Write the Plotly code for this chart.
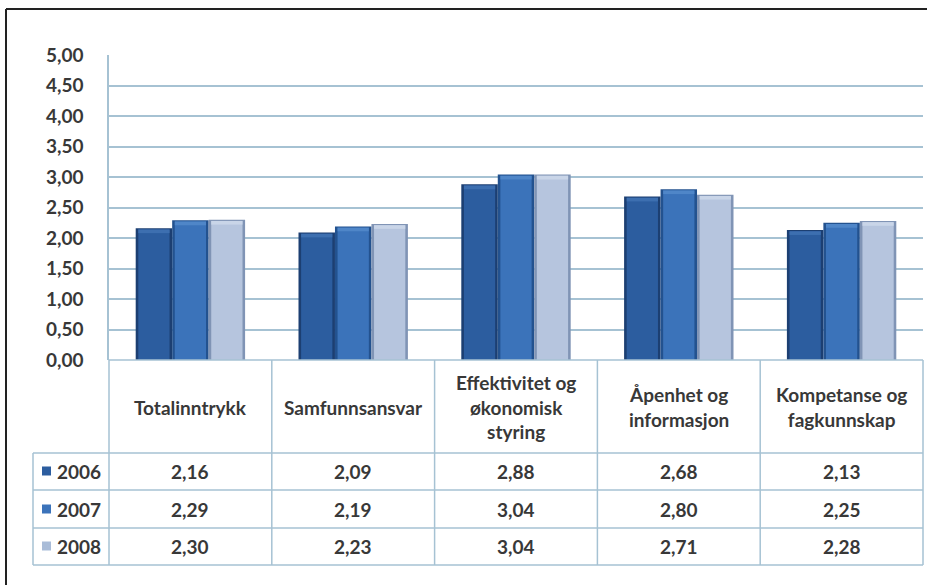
import plotly.graph_objects as go

# Survey scores per dimension and year
categories = [
    "Totalinntrykk",
    "Samfunnsansvar",
    "Effektivitet og<br>økonomisk<br>styring",
    "Åpenhet og<br>informasjon",
    "Kompetanse og<br>fagkunnskap",
]
years = ["2006", "2007", "2008"]
v2006 = [2.16, 2.09, 2.88, 2.68, 2.13]
v2007 = [2.29, 2.19, 3.04, 2.80, 2.25]
v2008 = [2.30, 2.23, 3.04, 2.71, 2.28]
y_ticks = [0, 0.5, 1, 1.5, 2, 2.5, 3, 3.5, 4, 4.5, 5]

series = [v2006, v2007, v2008]
edge_colors = ["#1c3f72", "#23528f", "#8094b5"]
body_colors = ["#2c5d9f", "#3b73ba", "#b6c5de"]
cap_colors = ["#3d6fb0", "#4f86c8", "#c9d5e8"]
legend_colors = ["#2c5d9f", "#3b73ba", "#a9bcd8"]

W, H = 927, 585
ML, MR, MT, MB = 109, 4, 55, 225
PW, PH = W - ML - MR, H - MT - MB


def px(x):
    return (x - ML) / PW


def py(y):
    return (H - MB - y) / PH


xs = list(range(len(categories)))
bar_w = 0.224
grp_left = -0.336

fig = go.Figure()
for i, (vals, yr) in enumerate(zip(series, years)):
    off = grp_left + i * bar_w
    # outer (shaded edge) bar
    fig.add_trace(go.Bar(
        x=xs, y=vals, width=bar_w, offset=off, name=yr,
        marker=dict(color=edge_colors[i], line=dict(width=0)),
        showlegend=False, hoverinfo="skip",
    ))
    # body of the bar
    inset = 0.016
    fig.add_trace(go.Bar(
        x=xs, y=[v - 0.02 for v in vals], width=bar_w - 2 * inset, offset=off + inset,
        marker=dict(color=body_colors[i], line=dict(width=0)),
        showlegend=False, hoverinfo="skip",
    ))
    # soft top cap highlight
    fig.add_trace(go.Bar(
        x=xs, y=[0.06] * len(vals), base=[v - 0.08 for v in vals],
        width=bar_w - 2 * inset, offset=off + inset,
        marker=dict(color=cap_colors[i], line=dict(width=0)),
        showlegend=False, hoverinfo="skip",
    ))

grid_col = "#a6c2d3"
font_col = "#383838"
FONT = "Lato"
FSIZE = 19

shapes = []
# outer frame of the figure
shapes.append(dict(type="line", xref="paper", yref="paper",
                   x0=px(6), x1=px(927), y0=py(9), y1=py(9),
                   line=dict(color="#222222", width=2)))
shapes.append(dict(type="line", xref="paper", yref="paper",
                   x0=px(6), x1=px(6), y0=py(9), y1=py(585),
                   line=dict(color="#222222", width=2)))

# data table grid
col_edges = [ML + k * PW / 5 for k in range(6)]
for k, xe in enumerate(col_edges):
    shapes.append(dict(type="line", xref="paper", yref="paper",
                       x0=px(xe), x1=px(xe), y0=py(360), y1=py(565),
                       line=dict(color=grid_col, width=1.5)))
shapes.append(dict(type="line", xref="paper", yref="paper",
                   x0=px(33), x1=px(33), y0=py(453), y1=py(565),
                   line=dict(color=grid_col, width=1.5)))
shapes.append(dict(type="line", xref="paper", yref="paper",
                   x0=px(ML), x1=px(ML + PW), y0=py(360), y1=py(360),
                   line=dict(color=grid_col, width=1.5)))
for yl in [453, 490, 528, 565]:
    shapes.append(dict(type="line", xref="paper", yref="paper",
                       x0=px(33), x1=px(ML + PW), y0=py(yl), y1=py(yl),
                       line=dict(color=grid_col, width=1.5)))

annotations = []
# category header row
for k, c in enumerate(categories):
    annotations.append(dict(
        x=px((col_edges[k] + col_edges[k + 1]) / 2), y=py(407),
        xref="paper", yref="paper", text=c, showarrow=False,
        xanchor="center", yanchor="middle",
        font=dict(family=FONT, size=FSIZE, color=font_col, weight="bold"),
    ))

row_centers = [471, 509, 546]
for r, (vals, yr) in enumerate(zip(series, years)):
    yc = row_centers[r]
    # legend key
    shapes.append(dict(type="rect", xref="paper", yref="paper",
                       x0=px(42), x1=px(51), y0=py(yc - 4.5), y1=py(yc + 4.5),
                       fillcolor=legend_colors[r], line=dict(width=0)))
    annotations.append(dict(
        x=px(55), y=py(yc), xref="paper", yref="paper", text=yr,
        showarrow=False, xanchor="left", yanchor="middle",
        font=dict(family=FONT, size=FSIZE, color=font_col, weight="bold"),
    ))
    for k, v in enumerate(vals):
        annotations.append(dict(
            x=px((col_edges[k] + col_edges[k + 1]) / 2), y=py(yc),
            xref="paper", yref="paper", text=f"{v:.2f}".replace(".", ","),
            showarrow=False, xanchor="center", yanchor="middle",
            font=dict(family=FONT, size=FSIZE, color=font_col, weight="bold"),
        ))

fig.update_layout(
    width=W, height=H,
    margin=dict(l=ML, r=MR, t=MT, b=MB),
    paper_bgcolor="white", plot_bgcolor="white",
    barmode="overlay", separators=", ",
    showlegend=False,
    xaxis=dict(range=[-0.5, 4.5], showticklabels=False, showgrid=False,
               zeroline=False, showline=False, ticks=""),
    yaxis=dict(range=[0, 5], tickvals=y_ticks, tickformat=".2f",
               showgrid=True, gridcolor=grid_col, gridwidth=1.5,
               zeroline=False, showline=True, linecolor=grid_col, linewidth=1.5,
               ticks="", ticklabelstandoff=20,
               tickfont=dict(family=FONT, size=FSIZE, color=font_col, weight="bold")),
    shapes=shapes, annotations=annotations,
)

fig.write_html("out.html")
